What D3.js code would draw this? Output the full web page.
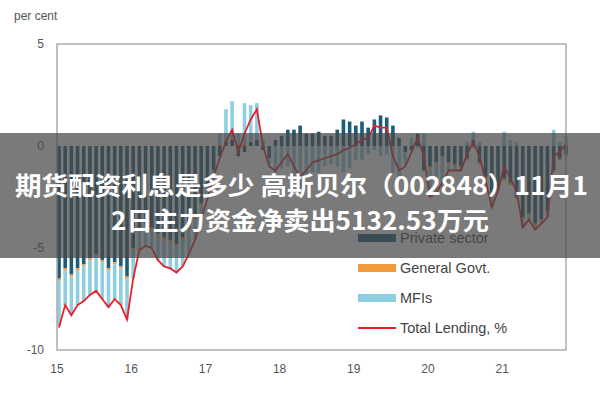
<!DOCTYPE html>
<html><head><meta charset="utf-8">
<script src="https://cdn.jsdelivr.net/npm/d3@7/dist/d3.min.js"></script>
<style>body{margin:0;background:#fff}</style></head>
<body><svg id="c" width="600" height="400"></svg>
<script>
const yearTicks = ["15","16","17","18","19","20","21"];
const yTicks = [5,0,-5,-10];
const totalLending = [-8.9,-7.8,-8.3,-7.8,-7.6,-7.3,-7.1,-7.5,-7.9,-7.5,-7.8,-8.5,
 -6.5,-5.1,-4.9,-5.0,-5.6,-5.9,-6.0,-6.2,-5.9,-5.3,-4.6,-3.6,
 -2.6,-1.5,-0.6,0.2,0.8,-0.3,0.6,1.3,1.8,0.0,-1.0,-1.2,
 -0.8,-0.4,-1.0,-1.5,-1.2,-0.8,-0.7,-0.6,-0.5,-0.4,-0.2,-0.1,
 0.1,0.3,0.4,1.0,0.9,0.9,-0.5,-1.2,-1.0,-0.3,0.4,-0.5,
 -2.5,-2.3,-1.8,-1.2,-1.2,-1.2,-0.4,0.2,-0.5,-1.7,-3.0,-2.2,
 -1.0,-1.6,-2.2,-4.0,-3.6,-4.1,-3.8,-3.5,-0.5,-0.3,0.1];
const privateSector = [-6.5,-6,-6.3,-6,-5.8,-5.5,-5.3,-5.6,-6,-5.7,-5.9,-6.4,
 -5,-4,-3.8,-4,-4.3,-4.5,-4.6,-4.8,-4.5,-4,-3.5,-2.8,
 -2,-1.2,-0.5,0.2,0.3,-0.5,-0.3,0.2,0.3,-0.2,-0.6,0.3,
 0.5,0.8,0.8,1.0,0.6,0.6,0.7,0.5,0.5,0.8,1.3,1.2,
 1.0,1.2,0.9,1.3,1.5,1.4,1.0,0.4,-0.3,-0.2,0.6,-1.2,
 -1.0,-0.8,-0.5,-0.8,-0.9,-1.0,-0.6,0.3,-0.8,-1.5,-2.3,-2.0,
 -1.6,-1.8,-2.5,-3.5,-3.3,-3.8,-3.6,-3.2,-1.2,-0.6,-0.4];
const mfis = [-2.2,-1.7,-1.9,-1.7,-1.7,-1.7,-1.7,-1.8,-1.8,-1.7,-1.8,-2.0,
 -1.4,-1.0,-1.0,-0.9,-1.2,-1.3,-1.3,-1.3,-1.3,-1.2,-1.0,-0.7,
 -0.5,-0.3,0.5,1.5,1.8,0.5,2.0,1.8,1.8,0.3,-0.3,-1.3,
 -1.1,-1.0,-1.6,-2.2,-1.6,-1.3,-1.3,-1.0,-0.9,-1.0,-1.3,-1.1,
 -0.7,-0.7,-0.4,-0.2,-0.5,-0.4,-1.3,-1.5,-0.6,0.4,-0.1,0.6,
 -1.4,-1.4,-1.2,-0.3,-0.2,-0.1,0.2,0.4,0.2,-0.1,-0.6,-0.1,
 0.7,0.3,0.2,-0.4,-0.2,-0.2,-0.1,-0.2,0.8,0.2,0.5];
const generalGovt = [-0.1,-0.1,-0.1,-0.1,-0.1,-0.1,-0.1,-0.1,-0.1,-0.1,-0.1,-0.1,
 -0.1,-0.1,-0.1,-0.1,-0.1,-0.1,-0.1,-0.1,-0.1,-0.1,-0.1,-0.1,
 -0.1,0,0.1,0.1,0.1,0.1,0.1,0,0,0,0,0,
 0,0,0,0,0,0,0,0,0,0,0,0,
 0,0,0,0,0,0,0,0,0,0,0,0,
 -0.1,-0.1,-0.1,-0.1,-0.1,-0.1,-0.1,-0.1,-0.1,-0.1,-0.1,-0.1,
 -0.1,-0.1,-0.1,-0.1,-0.1,-0.1,-0.1,-0.1,-0.1,-0.1,-0.1];
const series = [["Private sector", privateSector, "#1d5d78"],["General Govt.", generalGovt, "#f39a3c"],["MFIs", mfis, "#8ecde2"]];

const svg = d3.select("#c");
const L=57,R=566,T=44,B=350;
const x = d3.scaleLinear().domain([0, 12*6]).range([L, L+74.2*6]);
const y = d3.scaleLinear().domain([-10,5]).range([B,T]);
const bw = 3.6;

totalLending.forEach((_,i)=>{
  let pos=0, neg=0;
  series.forEach(([n,arr,col])=>{
    const v=arr[i]; let y0,y1;
    if(v>=0){y0=pos;y1=pos+v;pos=y1;} else {y0=neg;y1=neg+v;neg=y1;}
    svg.append("rect").attr("x",x(i)-bw/2+2).attr("width",bw)
      .attr("y",y(Math.max(y0,y1))).attr("height",Math.abs(y(y0)-y(y1))).attr("fill",col);
  });
});
svg.append("path").datum(totalLending)
  .attr("d",d3.line().x((d,i)=>x(i)+2).y(d=>y(d)))
  .attr("fill","none").attr("stroke","#e8202a").attr("stroke-width",1.8);

svg.append("rect").attr("x",L).attr("y",T).attr("width",R-L).attr("height",B-T)
  .attr("fill","none").attr("stroke","#aaa").attr("stroke-width",1.5);

const f="Liberation Sans, Arial, sans-serif";
svg.append("text").attr("x",14).attr("y",20).text("per cent").attr("font-family",f).attr("font-size",12).attr("fill","#555");
yTicks.forEach(t=>svg.append("text").attr("x",44).attr("y",y(t)+4).attr("text-anchor","end")
  .text(t).attr("font-family",f).attr("font-size",12).attr("fill","#555"));
yearTicks.forEach((t,k)=>svg.append("text").attr("x",x(12*k)).attr("y",373).attr("text-anchor","middle")
  .text(t).attr("font-family",f).attr("font-size",12).attr("fill","#555"));

const leg = [["Private sector","#1d5d78","bar"],["General Govt.","#f39a3c","bar"],["MFIs","#8ecde2","bar"],["Total Lending, %","#e8202a","line"]];
leg.forEach(([n,c,t],k)=>{
  const yy=238+k*30;
  if(t==="bar") svg.append("rect").attr("x",358).attr("y",yy-4).attr("width",38).attr("height",8).attr("fill",c);
  else svg.append("line").attr("x1",358).attr("x2",396).attr("y1",yy).attr("y2",yy).attr("stroke",c).attr("stroke-width",2);
  svg.append("text").attr("x",400).attr("y",yy+5).text(n).attr("font-family",f).attr("font-size",14.5).attr("fill","#444");
});

// overlay banner
svg.append("rect").attr("x",0).attr("y",133).attr("width",600).attr("height",125).attr("fill","rgba(70,70,70,0.72)");
const bf="Noto Sans CJK SC, sans-serif";
svg.append("text").attr("x",15).attr("y",195).attr("textLength",573).attr("lengthAdjust","spacingAndGlyphs")
  .text("期货配资利息是多少 高斯贝尔（002848）11月1")
  .attr("font-family",bf).attr("font-size",25).attr("font-weight","bold").attr("fill","#fff");
svg.append("text").attr("x",111).attr("y",230).attr("textLength",378).attr("lengthAdjust","spacingAndGlyphs")
  .text("2日主力资金净卖出5132.53万元")
  .attr("font-family",bf).attr("font-size",25).attr("font-weight","bold").attr("fill","#fff");
</script></body></html>
